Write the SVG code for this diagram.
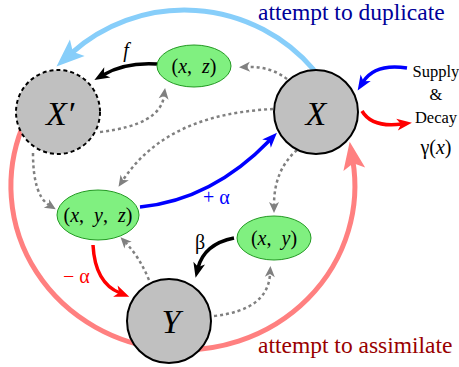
<svg xmlns="http://www.w3.org/2000/svg" width="459" height="367" viewBox="0 0 459 367">
<style>
text{font-family:"Liberation Serif","Times New Roman",serif;}
.it{font-style:italic;}
.circ{fill:#c0c0c0;stroke:#000;stroke-width:2;}
.ell{fill:#80f080;stroke:#229922;stroke-width:1;}
.dot{fill:none;stroke:#808080;stroke-width:2.5;stroke-dasharray:3 3;marker-end:url(#mGray);}
.big{fill:none;stroke-width:5;}
.thin{fill:none;stroke-width:3.5;}
</style>
<defs>
<marker id="mLB" markerUnits="userSpaceOnUse" markerWidth="40" markerHeight="30" viewBox="0 -15 40 30" refX="9" refY="0" orient="auto" overflow="visible"><path d="M0,-11 L28,0 L0,11 L6,0 z" fill="#87cefa"/></marker>
<marker id="mPink" markerUnits="userSpaceOnUse" markerWidth="40" markerHeight="30" viewBox="0 -15 40 30" refX="9" refY="0" orient="auto" overflow="visible"><path d="M0,-11 L28,0 L0,11 L6,0 z" fill="#ff8080"/></marker>
<marker id="mBlue" markerUnits="userSpaceOnUse" markerWidth="20" markerHeight="16" viewBox="0 -8 20 16" refX="5" refY="0" orient="auto" overflow="visible"><path d="M0,-6 L15,0 L0,6 L4,0 z" fill="#0000ff"/></marker>
<marker id="mRed" markerUnits="userSpaceOnUse" markerWidth="20" markerHeight="16" viewBox="0 -8 20 16" refX="5" refY="0" orient="auto" overflow="visible"><path d="M0,-6 L15,0 L0,6 L4,0 z" fill="#ff0000"/></marker>
<marker id="mBlack" markerUnits="userSpaceOnUse" markerWidth="20" markerHeight="16" viewBox="0 -8 20 16" refX="5" refY="0" orient="auto" overflow="visible"><path d="M0,-6 L15,0 L0,6 L4,0 z" fill="#000"/></marker>
<marker id="mGray" markerUnits="userSpaceOnUse" markerWidth="14" markerHeight="12" viewBox="0 -6 14 12" refX="3" refY="0" orient="auto" overflow="visible"><path d="M0,-5 L11,0 L0,5 L3,0 z" fill="#808080"/></marker>
</defs>
<rect width="459" height="367" fill="#fff"/>
<g id="connectors">
<path class="big" stroke="#ff8080" d="M22,128 A172,164 0 1 0 352.8,160.4" marker-end="url(#mPink)"/>
<path class="big" stroke="#87cefa" d="M314,70 A170,170 0 0 0 70.6,53.8" marker-end="url(#mLB)"/>
<path class="dot" d="M287,79 Q270,66 247,67"/>
<path class="dot" d="M100,132 Q160,125 164,96"/>
<path class="dot" d="M273,109 C220,112 160,125 123,180"/>
<path class="dot" d="M33,153 Q33,195 49,205"/>
<path class="dot" d="M297,150 Q274,170 274,205"/>
<path class="dot" d="M149,280 Q140,258 126,243"/>
<path class="dot" d="M214,316 Q268,310 270,274"/>
<path class="thin" stroke="#000" d="M157,64 Q125,62 103,75" marker-end="url(#mBlack)"/>
<path class="thin" stroke="#000" d="M234,238 Q204,244 198,268" marker-end="url(#mBlack)"/>
<path class="thin" stroke="#0000ff" d="M140,207 Q212,200 270,140" marker-end="url(#mBlue)"/>
<path class="thin" stroke="#ff0000" d="M93,245 Q95,283 120,293" marker-end="url(#mRed)"/>
<path class="thin" stroke="#0000ff" d="M407,68 Q375,63 363,82" marker-end="url(#mBlue)"/>
<path class="thin" stroke="#ff0000" d="M362,111 Q372,128 402,124" marker-end="url(#mRed)"/>
<text x="126" y="57" font-size="20" class="it" text-anchor="middle">f</text>
<text x="200" y="249" font-size="20" text-anchor="middle">β</text>
<text x="203" y="204" font-size="20" fill="#0000ff">+ α</text>
<text x="63" y="283" font-size="20" fill="#ff0000">− α</text>
<text x="258" y="20" font-size="23.5" fill="#000099">attempt to duplicate</text>
<text x="258" y="353" font-size="23.5" fill="#990000">attempt to assimilate</text>
<text x="436" y="77" font-size="16.5" text-anchor="middle">Supply</text>
<text x="436" y="100" font-size="16.5" text-anchor="middle">&amp;</text>
<text x="436" y="123" font-size="16.5" text-anchor="middle">Decay</text>
<text x="436" y="154" font-size="20" text-anchor="middle">γ(<tspan class="it">x</tspan>)</text>
</g>
<g id="nodeXp">
<circle cx="58" cy="112" r="42" class="circ" stroke-width="3" stroke-dasharray="4 3"/>
<text x="60" y="125" font-size="34" class="it" text-anchor="middle">X′</text>
</g>
<g id="nodeX">
<circle cx="316" cy="112" r="42" class="circ"/>
<text x="316" y="125" font-size="34" class="it" text-anchor="middle">X</text>
</g>
<g id="nodeY">
<circle cx="169" cy="321" r="42" class="circ"/>
<text x="171" y="333" font-size="34" class="it" text-anchor="middle">Y</text>
</g>
<g id="nodeXZ">
<ellipse cx="194" cy="66" rx="37" ry="21" class="ell"/>
<text x="194" y="73" font-size="20" text-anchor="middle">(<tspan class="it">x</tspan>, <tspan class="it" dx="5">z</tspan>)</text>
</g>
<g id="nodeXYZ">
<ellipse cx="98" cy="215" rx="41" ry="25" class="ell"/>
<text x="98" y="222" font-size="20" text-anchor="middle">(<tspan class="it">x</tspan>, <tspan class="it" dx="5">y</tspan>, <tspan class="it" dx="5">z</tspan>)</text>
</g>
<g id="nodeXY">
<ellipse cx="274" cy="238" rx="37" ry="22" class="ell"/>
<text x="274" y="245" font-size="20" text-anchor="middle">(<tspan class="it">x</tspan>, <tspan class="it" dx="5">y</tspan>)</text>
</g>
</svg>
